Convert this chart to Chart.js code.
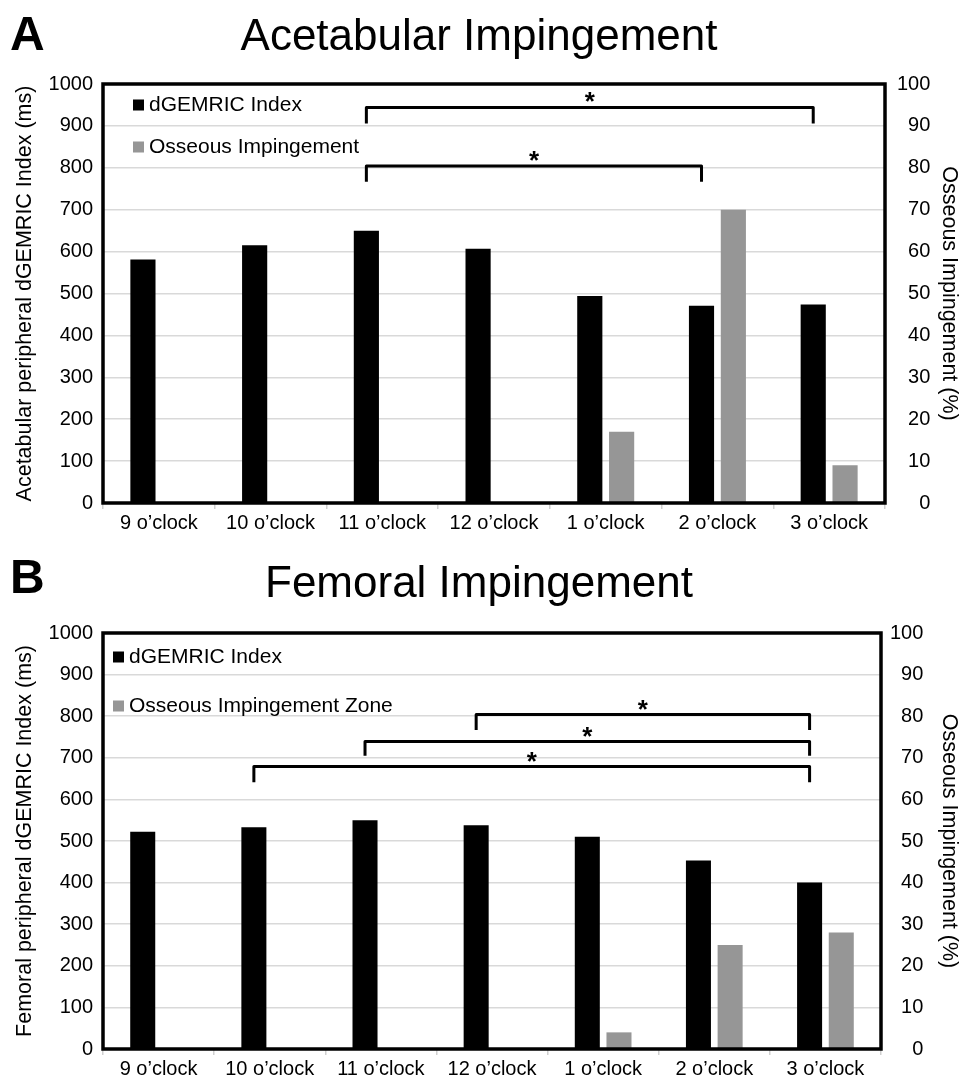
<!DOCTYPE html>
<html>
<head>
<meta charset="utf-8">
<script src="https://cdn.jsdelivr.net/npm/chart.js@4.4.1/dist/chart.umd.min.js"></script>
<style>
  html, body { margin: 0; padding: 0; background: #fff; }
  .panel { position: relative; width: 963px; }
  #panelA { height: 540px; }
  #panelB { height: 539px; }
</style>
</head>
<body>
<div class="panel" id="panelA"><canvas id="chartA"></canvas></div>
<div class="panel" id="panelB"><canvas id="chartB"></canvas></div>
<script>
const FONT = '"Liberation Sans", Arial, Helvetica, sans-serif';

const CLOCK_LABELS = ["9 o\u2019clock", "10 o\u2019clock", "11 o\u2019clock", "12 o\u2019clock",
    "1 o\u2019clock", "2 o\u2019clock", "3 o\u2019clock"];

// panel A - acetabular
const ACET_DGEMRIC = [581, 615, 650, 607, 494, 471, 474];
const ACET_OSSEOUS = [0, 0, 0, 0, 17, 70, 9];
// brackets: from / to category index, top and foot in ms
const ACET_BRACKETS = [
    { from: 2, to: 6, top: 944, foot: 906 },
    { from: 2, to: 5, top: 804, foot: 767 }
];

// panel B - femoral
const FEM_DGEMRIC = [522, 533, 550, 538, 510, 453, 400];
const FEM_OSSEOUS = [0, 0, 0, 0, 4, 25, 28];
const FEM_BRACKETS = [
    { from: 3, to: 6, top: 804, foot: 767 },
    { from: 2, to: 6, top: 739, foot: 705 },
    { from: 1, to: 6, top: 679, foot: 641 }
];

Chart.defaults.font.family = FONT;
Chart.defaults.color = "#000";

const panelTitle = {
    id: "panelTitle",
    afterDraw(chart, args, opts) {
        const ctx = chart.ctx;
        ctx.save();
        ctx.fillStyle = "#000";
        ctx.textBaseline = "alphabetic";
        ctx.textAlign = "left";
        ctx.font = "bold 48px " + FONT;
        ctx.fillText(opts.letter, 10, opts.letterBase);
        ctx.textAlign = "center";
        ctx.font = "44px " + FONT;
        ctx.fillText(opts.text, 479, opts.titleBase);
        ctx.restore();
    }
};

const plotFrame = {
    id: "plotFrame",
    afterDatasetsDraw(chart) {
        const { ctx, chartArea } = chart;
        ctx.save();
        ctx.strokeStyle = "#000";
        ctx.lineWidth = 3.5;
        ctx.strokeRect(chartArea.left, chartArea.top, chartArea.right - chartArea.left, chartArea.bottom - chartArea.top);
        ctx.restore();
    }
};

const insideLegend = {
    id: "insideLegend",
    afterDatasetsDraw(chart, args, opts) {
        const { ctx, chartArea } = chart;
        ctx.save();
        ctx.font = "21px " + FONT;
        ctx.textBaseline = "middle";
        ctx.textAlign = "left";
        chart.data.datasets.forEach((ds, i) => {
            const x = chartArea.left + opts.x;
            const y = chartArea.top + opts.rows[i];
            ctx.fillStyle = ds.backgroundColor;
            ctx.fillRect(x, y - 5.5, 11, 11);
            ctx.fillStyle = "#000";
            ctx.fillText(ds.label, x + 16, y);
        });
        ctx.restore();
    }
};

const bracketMarks = {
    id: "bracketMarks",
    afterDatasetsDraw(chart, args, opts) {
        const ctx = chart.ctx;
        const meta = chart.getDatasetMeta(0);
        const yScale = chart.scales.y;
        ctx.save();
        ctx.strokeStyle = "#000";
        ctx.fillStyle = "#000";
        ctx.lineWidth = 3;
        ctx.lineJoin = "round";
        ctx.font = "bold 26px " + FONT;
        ctx.textAlign = "center";
        ctx.textBaseline = "alphabetic";
        const m = ctx.measureText("*");
        opts.items.forEach(b => {
            const x1 = meta.data[b.from].x;
            const x2 = meta.data[b.to].x;
            const yTop = yScale.getPixelForValue(b.top);
            const yFoot = yScale.getPixelForValue(b.foot);
            ctx.beginPath();
            ctx.moveTo(x1, yFoot);
            ctx.lineTo(x1, yTop);
            ctx.lineTo(x2, yTop);
            ctx.lineTo(x2, yFoot);
            ctx.stroke();
            const cy = yTop - 10;
            ctx.fillText("*", (x1 + x2) / 2, cy + (m.actualBoundingBoxAscent - m.actualBoundingBoxDescent) / 2);
        });
        ctx.restore();
    }
};

// right-align the percent labels: two spaces are one digit wide
function padPercent(v) {
    const s = String(v);
    return "  ".repeat(3 - s.length) + s;
}

function makePanel(id, cfg) {
    const ctx = document.getElementById(id).getContext("2d");
    return new Chart(ctx, {
        type: "bar",
        data: {
            labels: CLOCK_LABELS,
            datasets: [{
                label: "dGEMRIC Index",
                data: cfg.dgemric,
                backgroundColor: "#000000",
                yAxisID: "y",
                categoryPercentage: 0.57,
                barPercentage: 0.79
            }, {
                label: cfg.osseousLabel,
                data: cfg.osseous,
                backgroundColor: "#969696",
                yAxisID: "y1",
                categoryPercentage: 0.57,
                barPercentage: 0.79
            }]
        },
        options: {
            responsive: true,
            maintainAspectRatio: false,
            animation: false,
            layout: { padding: { top: cfg.top, left: 0, right: 0, bottom: 0 } },
            scales: {
                x: {
                    ticks: { color: "#000", font: { size: 20 }, padding: 2, maxRotation: 0, autoSkip: false },
                    grid: { drawOnChartArea: false, color: "#d0d0d0", lineWidth: 1.5, tickLength: 6, offset: true },
                    border: { display: false },
                    afterFit: s => { s.height = cfg.xHeight; }
                },
                y: {
                    position: "left",
                    min: 0,
                    max: 1000,
                    ticks: { stepSize: 100, color: "#000", font: { size: 20 }, padding: 10, callback: v => String(v) },
                    grid: { color: "#d9d9d9", lineWidth: 1.5, drawTicks: false },
                    border: { display: false },
                    title: {
                        display: true,
                        text: cfg.leftTitle,
                        color: "#000",
                        font: { size: 21.5 },
                        padding: { top: 12, bottom: 0 }
                    },
                    afterFit: s => { s.width = 103; }
                },
                y1: {
                    position: "right",
                    min: 0,
                    max: 100,
                    ticks: { stepSize: 10, color: "#000", font: { size: 20 }, padding: cfg.rightPad, callback: padPercent },
                    grid: { display: false },
                    border: { display: false },
                    title: {
                        display: true,
                        text: "Osseous Impingement (%)",
                        color: "#000",
                        font: { size: 21.5 },
                        padding: { top: 1, bottom: 0 }
                    },
                    afterFit: s => { s.width = cfg.rightWidth; }
                }
            },
            plugins: {
                legend: { display: false },
                tooltip: { enabled: false },
                panelTitle: { letter: cfg.letter, text: cfg.title, letterBase: cfg.letterBase, titleBase: cfg.titleBase },
                insideLegend: { x: cfg.legendX, rows: cfg.legendRows },
                bracketMarks: { items: cfg.brackets }
            }
        },
        plugins: [panelTitle, plotFrame, bracketMarks, insideLegend]
    });
}

makePanel("chartA", {
    letter: "A",
    title: "Acetabular Impingement",
    letterBase: 50,
    titleBase: 50,
    top: 84,
    xHeight: 37,
    rightWidth: 78,
    rightPad: 4,
    leftTitle: "Acetabular peripheral dGEMRIC Index (ms)",
    osseousLabel: "Osseous Impingement",
    dgemric: ACET_DGEMRIC,
    osseous: ACET_OSSEOUS,
    brackets: ACET_BRACKETS,
    legendX: 30,
    legendRows: [21, 63]
});

makePanel("chartB", {
    letter: "B",
    title: "Femoral Impingement",
    letterBase: 53,
    titleBase: 57,
    top: 93,
    xHeight: 30,
    rightWidth: 82,
    rightPad: 1,
    leftTitle: "Femoral peripheral dGEMRIC Index (ms)",
    osseousLabel: "Osseous Impingement Zone",
    dgemric: FEM_DGEMRIC,
    osseous: FEM_OSSEOUS,
    brackets: FEM_BRACKETS,
    legendX: 10,
    legendRows: [24, 73]
});
</script>
</body>
</html>
